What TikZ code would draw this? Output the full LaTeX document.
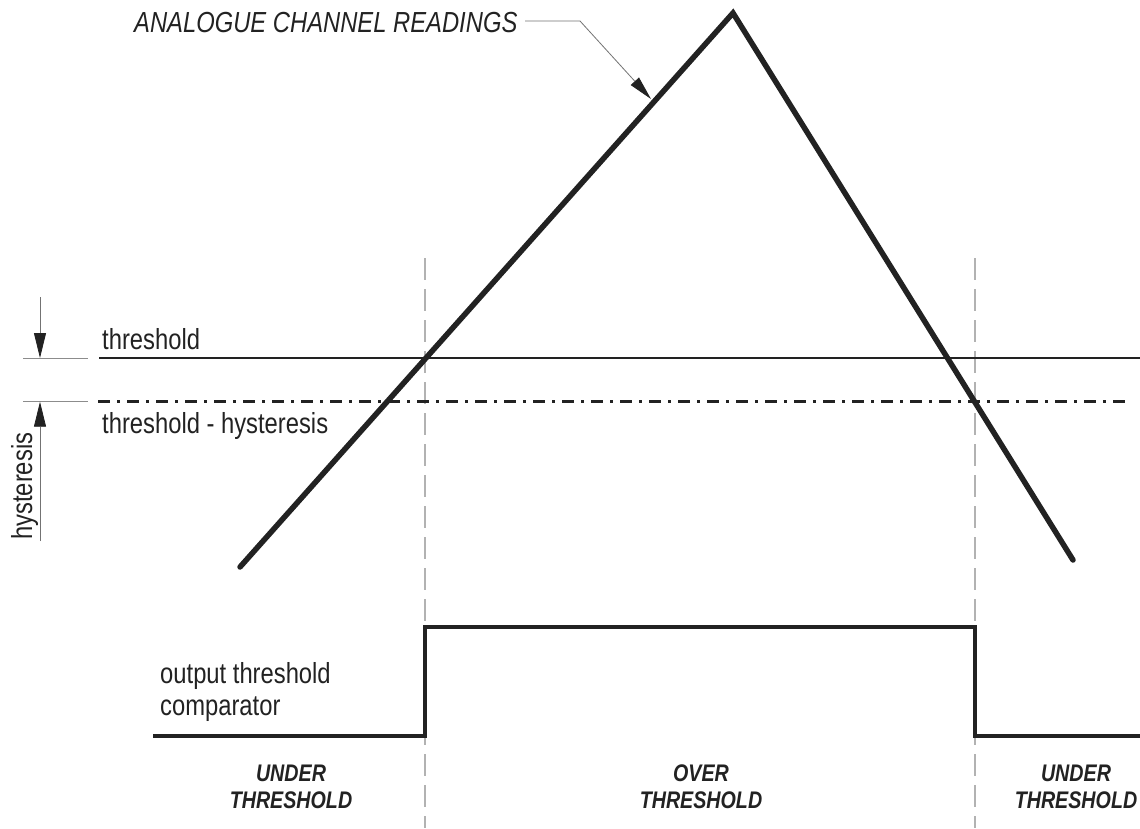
\documentclass[tikz,border=0pt]{standalone}
\usepackage{fontspec}
\setmainfont{Liberation Sans}[FakeStretch=0.82]
\usetikzlibrary{arrows.meta}
\definecolor{ink}{HTML}{222222}
\begin{document}
\begin{tikzpicture}[x=1pt,y=-1pt,
  signal/.style={line width=5.5pt, draw=ink, line cap=round},
  stepline/.style={line width=4.5pt, draw=ink},
  thr/.style={line width=2pt, draw=ink},
  dashdot/.style={line width=2.5pt, draw=ink, dash pattern=on 12pt off 7pt on 3pt off 7pt},
  guide/.style={line width=1.2pt, draw=black!30, dash pattern=on 22pt off 9pt},
  ext/.style={line width=0.8pt, draw=black!45},
  dimarrow/.style={line width=0.8pt, draw=black!55, -{Triangle[length=25pt,width=12pt,color=ink]}},
  leader/.style={line width=0.8pt, draw=black!55, -{Triangle[length=24pt,width=11pt,color=ink]}},
  lbl/.style={font=\fontsize{29}{33}\selectfont, text=ink, inner sep=0pt},
  zone/.style={font=\fontsize{24}{27}\selectfont\bfseries\itshape, text=ink, inner sep=0pt, align=center}
]
\fill[white] (0,0) rectangle (1140,828);
\useasboundingbox (0,0) rectangle (1140,828);

% coordinates
\coordinate (tA) at (240,567);
\coordinate (tP) at (733,13);
\coordinate (tB) at (1073,560);
\coordinate (thL) at (99,358);
\coordinate (thR) at (1140,358);
\coordinate (hyL) at (98,401.7);
\coordinate (hyR) at (1130,401.7);
\coordinate (g1t) at (425,258);
\coordinate (g1b) at (425,828);
\coordinate (g2t) at (975,258);
\coordinate (g2b) at (975,828);
\coordinate (s0) at (153,736);
\coordinate (s1) at (425,736);
\coordinate (s2) at (425,627);
\coordinate (s3) at (975,627);
\coordinate (s4) at (975,736);
\coordinate (s5) at (1140,736);
\coordinate (e1a) at (23,358);
\coordinate (e1b) at (88,358);
\coordinate (e2a) at (23,401.7);
\coordinate (e2b) at (88,401.7);
\coordinate (a1s) at (40,297);
\coordinate (a1e) at (40,358);
\coordinate (a2s) at (40,541);
\coordinate (a2e) at (40,401.7);
\coordinate (l0) at (525,21);
\coordinate (l1) at (580,21);
\coordinate (l2) at (651,99);

% guides
\draw[guide] (g1t) -- (g1b);
\draw[guide] (g2t) -- (g2b);

% threshold lines
\draw[thr] (thL) -- (thR);
\draw[dashdot] (hyL) -- (hyR);

% dimension
\draw[ext] (e1a) -- (e1b);
\draw[ext] (e2a) -- (e2b);
\draw[dimarrow] (a1s) -- (a1e);
\draw[dimarrow] (a2s) -- (a2e);

% signal
\draw[signal] (tA) -- (tP) -- (tB);

% output
\draw[stepline] (s0) -- (s1) -- (s2) -- (s3) -- (s4) -- (s5);

% labels
\node[lbl, font=\fontsize{29}{33}\selectfont\itshape, anchor=base west] (title) at (134,32) {ANALOGUE CHANNEL READINGS};
\draw[leader] (l0) -- (l1) -- (l2);
\node[lbl, anchor=base west] (thlabel) at (102,349) {threshold};
\node[lbl, anchor=base west] (hylabel) at (102,433) {threshold - hysteresis};
\node[lbl, rotate=90, anchor=base west] (hyst) at (32,540) {hysteresis};
\node[lbl, anchor=base west] (out1) at (160,683) {output threshold};
\node[lbl, anchor=base west] (out2) at (160,715) {comparator};

\node[zone, anchor=north] (z1) at (291,765) {UNDER\\THRESHOLD};
\node[zone, anchor=north] (z2) at (701,765) {OVER\\THRESHOLD};
\node[zone, anchor=north] (z3) at (1076,765) {UNDER\\THRESHOLD};
\end{tikzpicture}
\end{document}
